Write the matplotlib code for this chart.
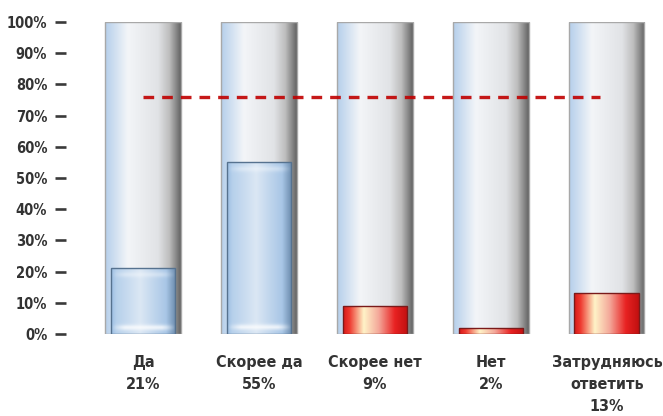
"""
Survey answers as "glass" bars: light track to 100%, filled part to the share.
"""
import numpy as np
import matplotlib
matplotlib.use("Agg")
import matplotlib.pyplot as plt
from matplotlib.colors import to_rgb

CATEGORIES = ["Да", "Скорее да", "Скорее нет", "Нет", "Затрудняюсь\nответить"]
VALUES = [21, 55, 9, 2, 13]
POSITIVE = [True, True, False, False, False]
Y_TICKS = [0, 10, 20, 30, 40, 50, 60, 70, 80, 90, 100]
Y_LABELS = ["0%", "10%", "20%", "30%", "40%", "50%", "60%", "70%", "80%", "90%", "100%"]

plt.rcParams["font.family"] = ["DejaVu Sans"]
plt.rcParams["font.stretch"] = "condensed"
plt.rcParams["font.weight"] = "bold"

TEXT = "#333333"

TRACK = [(0.0, "#b5cfeb"), (0.3, "#f3f5f8"), (0.7, "#e1e3e6"), (0.85, "#bdbdbd"), (1.0, "#636363")]
BLUE = [(0.0, "#9abde2"), (0.08, "#b6d0eb"), (0.45, "#dbe7f4"), (0.85, "#a8c6e6"), (1.0, "#6a8aac")]
RED = [(0.0, "#d81818"), (0.1, "#ee3a30"), (0.32, "#fff3c8"), (0.55, "#f4a89a"), (0.8, "#e82222"), (1.0, "#c01010")]


def hgrad(stops, n=200):
    pos = [p for p, _ in stops]
    cols = np.array([to_rgb(c) for _, c in stops])
    x = np.linspace(0, 1, n)
    return np.stack([np.interp(x, pos, cols[:, k]) for k in range(3)], axis=-1)


def glass_bar(ax, x, h, width, stops, glow=False, edge="#999999", z=2):
    bar = ax.bar(x, h, width=width, facecolor="none", edgecolor=edge,
                 linewidth=1, zorder=z + 1)[0]
    row = hgrad(stops)
    m = 120
    img = np.repeat(row[None, :, :], m, axis=0)
    if glow:
        y = np.linspace(0, h, m)
        xs = np.linspace(0, 1, row.shape[0])
        fade = np.clip(np.sin(np.pi * xs) * 1.6, 0, 1)
        w_bot = 0.75 * np.exp(-((y - 2.0) / 0.9) ** 2)
        w_top = 0.35 * np.exp(-((y - (h - 2.0)) / 0.9) ** 2)
        w = (w_bot + w_top)[:, None] * fade[None, :]
        img = img * (1 - w[..., None]) + w[..., None]
    im = ax.imshow(img, extent=(x - width / 2, x + width / 2, 0, h), origin="lower",
                   aspect="auto", interpolation="bilinear", zorder=z)
    im.set_clip_path(bar)
    return bar


fig = plt.figure(figsize=(6.63, 4.16), dpi=100)
ax = fig.add_axes([85 / 663, 1 - 334 / 416, (663 - 85) / 663, 312 / 416])
xs = np.arange(len(CATEGORIES))

for x, v, pos in zip(xs, VALUES, POSITIVE):
    glass_bar(ax, x, 100, 0.647, TRACK, edge="#a8a8a8", z=1)
    if pos:
        glass_bar(ax, x, v, 0.56, BLUE, glow=True, edge="#56728f", z=3)
    else:
        glass_bar(ax, x, v, 0.56, RED, edge="#7a1a1a", z=3)

# reference level: total of the positive answers
level = sum(v for v, p in zip(VALUES, POSITIVE) if p)
ax.hlines(level, xs[0], xs[-1] - 0.06, colors="#c00000", linestyles=(0, (3.2, 2.4)),
          linewidth=2.4, alpha=0.9, zorder=6)

ax.set_xlim(-0.5, 4.483)
ax.set_ylim(0, 100)
for s in ax.spines.values():
    s.set_visible(False)
ax.spines["left"].set_position(("outward", 13.7))
ax.set_xticks([])
ax.set_yticks(Y_TICKS, Y_LABELS)
ax.tick_params(axis="y", length=8, width=1.9, color="#3a3a3a", pad=5.5,
               labelsize=10.5, labelcolor=TEXT)

for x, name, v in zip(xs, CATEGORIES, VALUES):
    ax.text(x, -6.6, f"{name}\n{v}%", ha="center", va="top", fontsize=11.5,
            color=TEXT, linespacing=1.6, clip_on=False)

fig.savefig("out.png", dpi=100)
